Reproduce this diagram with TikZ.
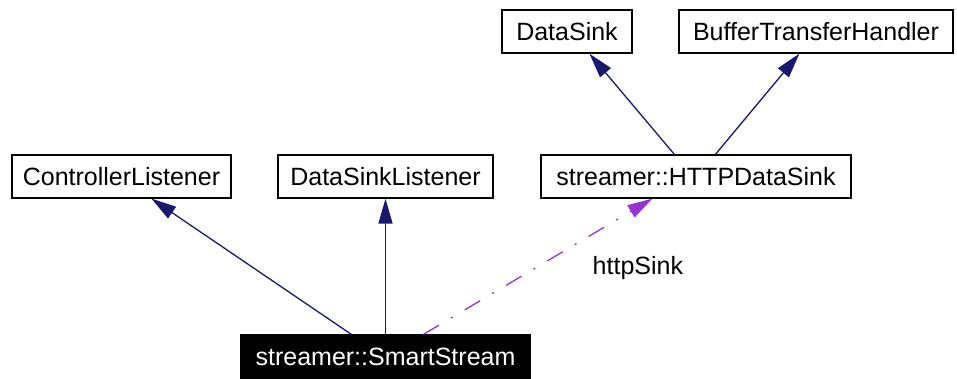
\documentclass[tikz,border=0pt]{standalone}
\usepackage{fontspec}
\setmainfont{Liberation Sans}
\usetikzlibrary{arrows.meta}
\definecolor{inhcol}{HTML}{191970}
\definecolor{usecol}{HTML}{9A32CD}
\tikzset{
  classbox/.style={draw=black, line width=1.2pt, fill=white, inner sep=0pt,
    minimum height=43pt, font=\fontsize{25}{30}\selectfont, text=black},
  focusbox/.style={classbox, fill=black, text=white},
  inherit/.style={draw=inhcol, line width=1.3pt,
    -{Triangle[length=25pt, width=14pt, fill=inhcol]}},
  usage/.style={draw=usecol, line width=1.3pt,
    dash pattern=on 18pt off 14pt on 2pt off 14pt,
    -{Triangle[length=25pt, width=14pt, fill=usecol]}},
  edgelabel/.style={font=\fontsize{25}{30}\selectfont, text=black}
}
\begin{document}
\begin{tikzpicture}[x=1pt, y=-1pt]
  \useasboundingbox[fill=white] (0,0) rectangle (957,378);

  % class boxes
  \node[classbox, minimum width=130pt] (ds)   at (567,31.5)   {DataSink};
  \node[classbox, minimum width=274pt] (bth)  at (816,31.5)   {BufferTransferHandler};
  \node[classbox, minimum width=219pt] (cl)   at (121.5,176.5) {ControllerListener};
  \node[classbox, minimum width=215pt] (dsl)  at (385.5,176.5) {DataSinkListener};
  \node[classbox, minimum width=310pt] (http) at (696,176.5)   {streamer::HTTPDataSink};
  \node[focusbox, minimum width=289pt] (ss)   at (385.5,356.5) {streamer::SmartStream};

  % inheritance relations
  \draw[inherit] ([xshift=111pt]ss.north west) -- ([xshift=140pt]cl.south west);
  \draw[inherit] (dsl.south |- ss.north) -- (dsl.south);
  \draw[inherit] ([xshift=134pt]http.north west) -- ([xshift=88pt]ds.south west);
  \draw[inherit] ([xshift=175pt]http.north west) -- ([xshift=121pt]bth.south west);

  % usage relation
  \draw[usage] ([xshift=183pt]ss.north west) -- ([xshift=112pt]http.south west)
    node[pos=0.5, edgelabel, anchor=center, xshift=100pt, yshift=-2pt] (lbl) {httpSink};
\end{tikzpicture}
\end{document}
